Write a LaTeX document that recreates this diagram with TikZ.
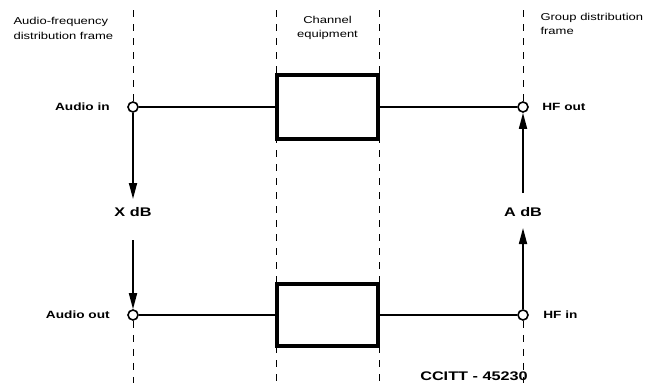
\documentclass[tikz,border=0pt]{standalone}
\usepackage{fontspec}
\setmainfont{Liberation Sans}[FakeStretch=1.3]
\usetikzlibrary{arrows.meta,positioning}

\begin{document}
\begin{tikzpicture}[x=1pt,y=-1pt,font=\fontsize{10}{12}\selectfont,
  port/.style={circle, draw, fill=white, line width=1.6pt, inner sep=0pt, minimum size=10pt},
  unit/.style={draw, line width=3.6pt, fill=white, minimum width=101.5pt, minimum height=63.5pt, inner sep=0pt},
  frame/.style={dash pattern=on 7pt off 7pt, line width=1pt},
  sig/.style={font=\fontsize{10.5}{12}\selectfont\bfseries},
  gain/.style={font=\fontsize{12.5}{14}\selectfont\bfseries},
  hdr/.style={align=left, font=\fontsize{10}{15}\selectfont},
  feed/.style={line width=1.7pt, -{Triangle[length=16pt,width=8pt]}}]
  \useasboundingbox (0,0) rectangle (648,383);

  \foreach \x in {276,379} {
    \draw[frame] (\x,10) -- (\x,383);
  }

  \node[port] (ain) at (133,107) {};
  \node[port] (aout) at (133,315) {};
  \node[port] (hfout) at (523,107) {};
  \node[port] (hfin) at (523,315) {};

  \draw[frame] (133,10) -- (ain);
  \draw[frame] (aout) -- (133,383);
  \draw[frame] (523,10) -- (hfout);
  \draw[frame] (hfin) -- (523,383);

  \node[unit] (upper) at (327.5,107) {};
  \node[unit, minimum height=61.5pt] (lower) at (327.5,315) {};

  \draw[line width=1.5pt] (ain) -- (upper) -- (hfout);
  \draw[line width=1.5pt] (aout) -- (lower) -- (hfin);

  \node[sig, left=14pt of ain] (ainlbl) {Audio in};
  \node[sig, left=14pt of aout] (aoutlbl) {Audio out};
  \node[sig, right=10pt of hfout] (hfoutlbl) {HF out};
  \node[sig, right=11pt of hfin] (hfinlbl) {HF in};

  \node[gain] (xdb) at (133,212) {X dB};
  \node[gain] (adb) at (523,212) {A dB};
  \coordinate (xtip) at (133,199);
  \coordinate (xfrom) at (133,240);
  \coordinate (atip) at (523,228);
  \coordinate (afrom) at (523,193);
  \draw[feed] (ain) -- (xtip);
  \draw[feed] (xfrom) -- (aout);
  \draw[feed] (hfin) -- (atip);
  \draw[feed] (afrom) -- (hfout);

  \node[hdr, anchor=west] (afdf) at (10,28) {Audio-frequency\\distribution frame};
  \node[hdr, align=center, font=\fontsize{10}{14}\selectfont] (chan) at (327.5,28) {Channel\\equipment};
  \node[hdr, anchor=west, font=\fontsize{10}{14}\selectfont] (gdf) at (537,24) {Group distribution\\frame};

  \node[font=\fontsize{12.5}{14}\selectfont\bfseries] (ref) at (474,376) {CCITT - 45230};
\end{tikzpicture}
\end{document}
